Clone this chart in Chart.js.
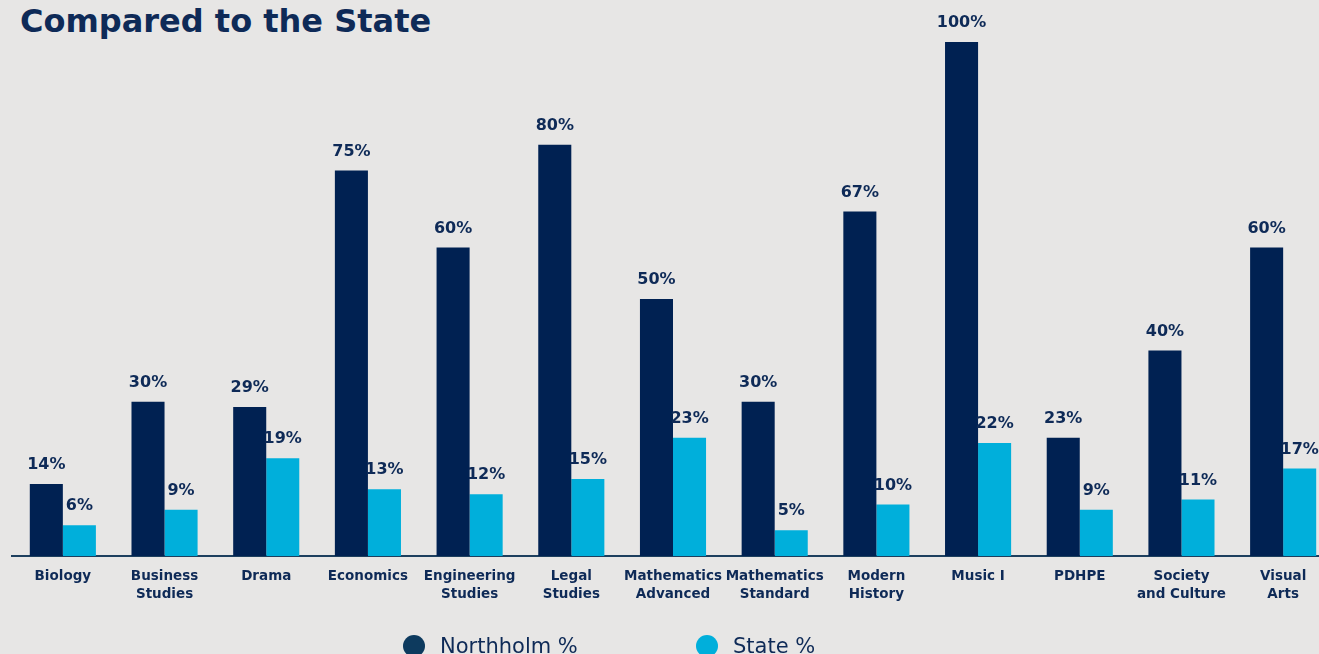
<!DOCTYPE html>
<html>
<head>
<meta charset="utf-8">
<script src="https://cdn.jsdelivr.net/npm/chart.js@4.4.0/dist/chart.umd.min.js"></script>
<style>
  html, body { margin: 0; padding: 0; background: #E7E6E5; overflow: hidden; }
  body { width: 1319px; height: 654px; position: relative; font-family: "DejaVu Sans", sans-serif; }
  .title { position: absolute; left: 20px; top: 2px; font-size: 32px; font-weight: bold; color: #0E2A57; white-space: nowrap; }
  .chart-box { position: absolute; left: 0; top: 0; width: 1340px; height: 654px; }
  .legend { position: absolute; top: 634px; left: 0; width: 1319px; height: 40px; }
  .legend-item { position: absolute; display: flex; align-items: center; font-size: 21px; color: #0E2A57; white-space: nowrap; }
  .legend-dot { width: 22px; height: 22px; border-radius: 50%; margin-right: 15px; }
</style>
</head>
<body>
<div class="title">Compared to the State</div>
<div class="chart-box"><canvas id="myChart"></canvas></div>
<div class="legend" id="legend"></div>
<script>
const subjects = [
  "Biology", ["Business", "Studies"], "Drama", "Economics", ["Engineering", "Studies"],
  ["Legal", "Studies"], ["Mathematics", "Advanced"], ["Mathematics", "Standard"],
  ["Modern", "History"], "Music I", "PDHPE", ["Society", "and Culture"], ["Visual", "Arts"]
];
const northholm = [14, 30, 29, 75, 60, 80, 50, 30, 67, 100, 23, 40, 60];
const state = [6, 9, 19, 13, 12, 15, 23, 5, 10, 22, 9, 11, 17];

const navy = "#002152";
const cyan = "#00AFDB";
const textColor = "#0E2A57";

// percent labels over each bar
const valueLabels = {
  id: "valueLabels",
  afterDatasetsDraw(chart) {
    const ctx = chart.ctx;
    ctx.save();
    ctx.font = "bold 16px 'DejaVu Sans'";
    ctx.fillStyle = textColor;
    ctx.textAlign = "center";
    ctx.textBaseline = "middle";
    chart.data.datasets.forEach((ds, i) => {
      chart.getDatasetMeta(i).data.forEach((bar, j) => {
        ctx.fillText(ds.data[j] + "%", bar.x, bar.y - 19);
      });
    });
    ctx.restore();
  }
};

const chart = new Chart(document.getElementById("myChart"), {
  type: "bar",
  data: {
    labels: subjects,
    datasets: [
      { label: "Northholm %", data: northholm, backgroundColor: navy, legendColor: "#0D3A5E" },
      { label: "State %", data: state, backgroundColor: cyan, legendColor: cyan }
    ]
  },
  options: {
    responsive: true,
    maintainAspectRatio: false,
    animation: false,
    layout: { padding: { top: 42, left: 12, right: 6, bottom: 0 } },
    datasets: { bar: { categoryPercentage: 0.65, barPercentage: 1 } },
    plugins: { legend: { display: false }, tooltip: { enabled: false } },
    scales: {
      x: {
        grid: { display: false, drawTicks: false },
        border: { color: "#1D3F5E", width: 2 },
        ticks: {
          color: textColor,
          font: { family: "DejaVu Sans", size: 13.5, weight: "bold", lineHeight: 1.35 },
          padding: 11,
          maxRotation: 0,
          autoSkip: false
        },
        afterFit(scale) { scale.height = 98; }
      },
      y: { display: false, min: 0, max: 100 }
    }
  },
  plugins: [valueLabels]
});

// html legend
const legend = document.getElementById("legend");
const legendX = [403, 696];
chart.data.datasets.forEach((ds, i) => {
  const item = document.createElement("div");
  item.className = "legend-item";
  item.style.left = legendX[i] + "px";
  const dot = document.createElement("span");
  dot.className = "legend-dot";
  dot.style.background = ds.legendColor;
  item.appendChild(dot);
  item.appendChild(document.createTextNode(ds.label));
  legend.appendChild(item);
});
</script>
</body>
</html>
